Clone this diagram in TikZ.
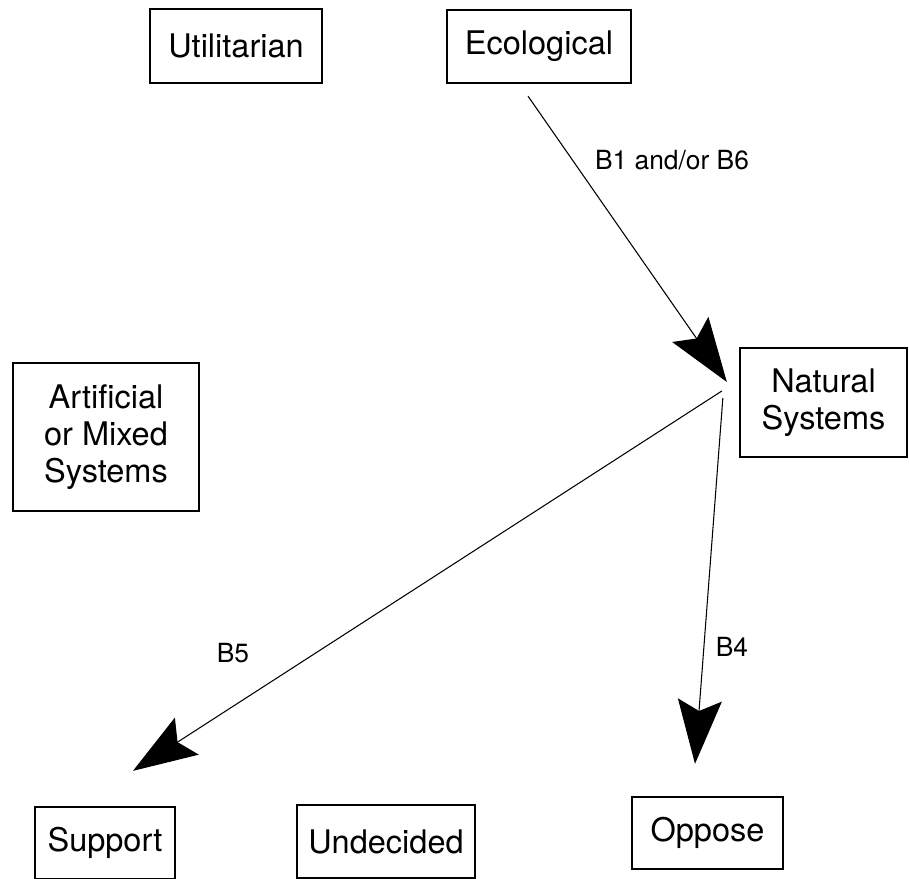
\documentclass[tikz,border=0pt]{standalone}
\usepackage{fontspec}
\setmainfont{TeX Gyre Heros}
\usetikzlibrary{arrows.meta}

\tikzset{
    stancebox/.style={draw, line width=1.3pt, align=center, inner sep=0pt,
        font=\fontsize{18.5}{21}\selectfont},
    flowline/.style={line width=0.6pt,
        -{Stealth[length=1.28cm, width=0.88cm, inset=0.22cm]}},
    flowlabel/.style={font=\fontsize{15}{17}\selectfont}
}

\begin{document}
\begin{tikzpicture}
    \useasboundingbox (0,0) rectangle (18.18,17.58);

    % Value orientations
    \node[stancebox, minimum width=3.44cm, minimum height=1.48cm] (util) at (4.72,16.66) {Utilitarian};
    \node[stancebox, minimum width=3.68cm, minimum height=1.46cm] (eco) at (10.78,16.65) {Ecological};

    % System types
    \node[stancebox, minimum width=3.72cm, minimum height=2.96cm] (art) at (2.12,8.84) {Artificial\\or Mixed\\Systems};
    \node[stancebox, minimum width=3.34cm, minimum height=2.18cm] (nat) at (16.47,9.53) {Natural\\Systems};

    % Positions
    \node[stancebox, minimum width=2.80cm, minimum height=1.44cm] (sup) at (2.10,0.72) {Support};
    \node[stancebox, minimum width=3.56cm, minimum height=1.46cm] (und) at (7.72,0.75) {Undecided};
    \node[stancebox, minimum width=3.02cm, minimum height=1.44cm] (opp) at (14.15,0.92) {Oppose};

    % Arrows
    \draw[flowline] ([shift={(-0.22,-0.24)}]eco.south) -- ([shift={(-0.24,0.41)}]nat.west);
    \draw[flowline] ([shift={(-0.34,0.23)}]nat.west) -- ([shift={(0.56,0.70)}]sup.north);
    \draw[flowline] ([shift={(-0.32,0.09)}]nat.west) -- ([shift={(-0.25,0.64)}]opp.north);

    % Labels
    \node[flowlabel] (lb1) at (13.44,14.38) {B1 and/or B6};
    \node[flowlabel] (lb5) at (4.66,4.52) {B5};
    \node[flowlabel] (lb4) at (14.64,4.64) {B4};
\end{tikzpicture}
\end{document}
